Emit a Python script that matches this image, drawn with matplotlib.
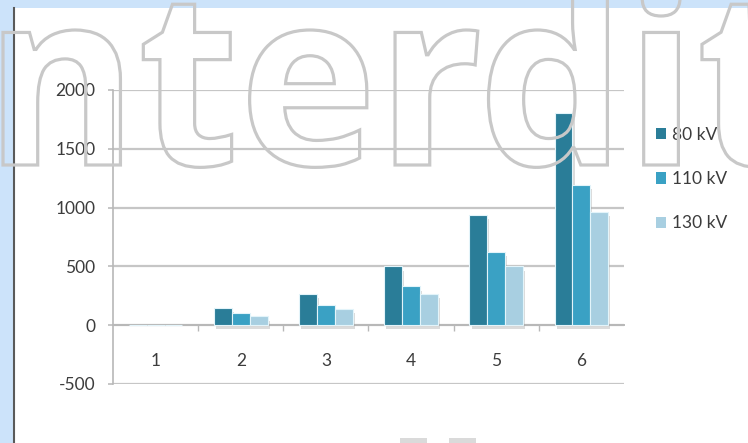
import numpy as np
import matplotlib
matplotlib.use("Agg")
import matplotlib.pyplot as plt
import matplotlib.patheffects as pe
from matplotlib.patches import Rectangle, PathPatch
from matplotlib.lines import Line2D
from matplotlib.textpath import TextPath
from matplotlib.font_manager import FontProperties
from matplotlib.transforms import Affine2D

plt.rcParams["axes.unicode_minus"] = False

# values
categories = ["1", "2", "3", "4", "5", "6"]
kv80 = [5, 150, 265, 500, 940, 1805]
kv110 = [5, 100, 170, 330, 625, 1190]
kv130 = [5, 75, 135, 265, 500, 960]
series_labels = ["80 kV", "110 kV", "130 kV"]
series_colors = ["#2a7d98", "#3aa1c4", "#a8cfe1"]
y_ticks = [-500, 0, 500, 1000, 1500, 2000]

W, H = 748, 443
TXT = "#3c3c3c"
GRID = "#c6c6c6"

fig = plt.figure(figsize=(W / 100, H / 100), dpi=100, facecolor="#cce3fa")

# white page with the dark left rule
fig.patches.append(Rectangle((14 / W, 0), (W - 14) / W, (H - 8) / H,
                             transform=fig.transFigure, facecolor="white",
                             edgecolor="none", zorder=-2))
fig.add_artist(Line2D([13.5 / W] * 2, [0, (H - 8) / H], color="#5a5a5a",
                      lw=1.5, transform=fig.transFigure, zorder=-1))

ax = fig.add_axes([113 / W, 59 / H, 511 / W, 294 / H])
ax.patch.set_alpha(0)

x = np.arange(len(categories))
w = 0.21
shadow = [pe.SimplePatchShadow(offset=(1.5, -3), shadow_rgbFace="#9a9a9a", alpha=0.35),
          pe.Normal()]
bars = []
for i, (vals, lab, col) in enumerate(zip([kv80, kv110, kv130], series_labels, series_colors)):
    b = ax.bar(x + (i - 1) * w, vals, w, color=col, edgecolor="#e3f4fa",
               linewidth=0.8, label=lab, zorder=3)
    for p in b:
        p.set_path_effects(shadow)
    bars.append(b)

ax.set_xlim(-0.5, len(categories) - 0.5)
ax.set_ylim(-500, 2000)
ax.set_yticks(y_ticks)
ax.yaxis.grid(True, color=GRID, lw=1.6)
ax.set_axisbelow(True)

for s in ["top", "right"]:
    ax.spines[s].set_visible(False)
ax.spines["left"].set_color("#b8b8b8")
ax.spines["left"].set_linewidth(1.2)
ax.spines["bottom"].set_position(("data", 0))
ax.spines["bottom"].set_color("#b8b8b8")
ax.spines["bottom"].set_linewidth(1.4)
ax.spines["bottom"].set_zorder(2)

ax.set_xticks(x, categories)
ax.set_xticks(np.arange(0.5, len(categories) - 0.5, 1), minor=True)
ax.tick_params(axis="x", which="major", length=0, pad=20, labelsize=12.5,
               labelcolor=TXT)
ax.tick_params(axis="x", which="minor", length=4, width=1, color="#b8b8b8")
ax.tick_params(axis="y", length=3.6, width=1.4, color=GRID, pad=9,
               labelsize=12.5, labelcolor=TXT)
for lbl in ax.get_xticklabels() + ax.get_yticklabels():
    lbl.set_fontfamily("Lato")

leg = ax.legend(loc="upper left", bbox_to_anchor=(656 / W, 1 - 127 / H),
                bbox_transform=fig.transFigure, frameon=False,
                handlelength=0.6, handleheight=0.6, handletextpad=0.3,
                labelspacing=1.62, borderpad=0, borderaxespad=0,
                prop={"family": "Lato", "size": 12.5})
for t in leg.get_texts():
    t.set_color(TXT)
for h in leg.legend_handles:
    h.set_path_effects([])
    h.set_edgecolor("none")

# outlined watermark over the chart, squeezed to the reference letter spacing
fp = FontProperties(family="Open Sans", weight="bold")
ext = TextPath((0, 0), "nterdi", size=100, prop=fp).get_extents()
n_top = TextPath((0, 0), "n", size=100, prop=fp).get_extents().y1
sx = (680 - 3) / (ext.x1 - ext.x0)
sy = (165 - 30) / n_top
wm = TextPath((0, 0), "nterdit", size=100, prop=fp)
tr = Affine2D().translate(-ext.x0, 0).scale(sx, sy).translate(3, H - 165)
fig.add_artist(PathPatch(tr.transform_path(wm), facecolor="none",
                         edgecolor="#c8c8c8", lw=2.3, transform=None, zorder=10))
for x0 in (400, 449):
    fig.patches.append(Rectangle((x0 / W, 0), 27 / W, 5 / H,
                                 transform=fig.transFigure, facecolor="#dadada",
                                 edgecolor="none", zorder=1))

fig.savefig("out.png", dpi=100, facecolor=fig.get_facecolor())
